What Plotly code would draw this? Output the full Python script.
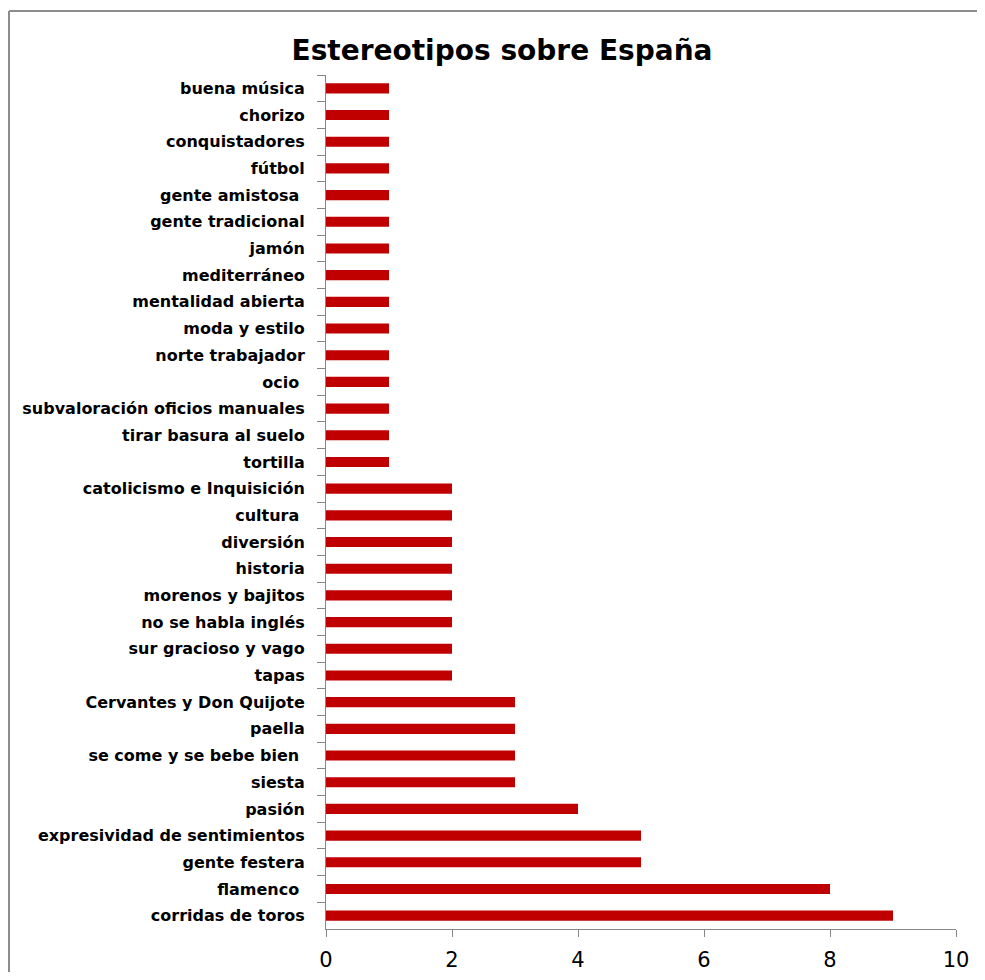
import plotly.graph_objects as go

NB = "\u00a0"
categories = [
    "buena música", "chorizo", "conquistadores", "fútbol", "gente amistosa" + NB,
    "gente tradicional", "jamón", "mediterráneo", "mentalidad abierta", "moda y estilo",
    "norte trabajador", "ocio" + NB, "subvaloración oficios manuales", "tirar basura al suelo",
    "tortilla", "catolicismo e Inquisición", "cultura" + NB, "diversión", "historia",
    "morenos y bajitos", "no se habla inglés", "sur gracioso y vago", "tapas",
    "Cervantes y Don Quijote", "paella", "se come y se bebe bien" + NB, "siesta",
    "pasión", "expresividad de sentimientos", "gente festera", "flamenco" + NB,
    "corridas de toros",
]
values = [1, 1, 1, 1, 1, 1, 1, 1, 1, 1, 1, 1, 1, 1, 1,
          2, 2, 2, 2, 2, 2, 2, 2,
          3, 3, 3, 3,
          4, 5, 5, 8, 9]
x_ticks = [0, 2, 4, 6, 8, 10]
title_text = "Estereotipos sobre España"

# page body has an 8px margin; work in reference pixels and shift by 8
OFF = 8
W, H = 977, 964
ML, MR, MT, MB = 326 - OFF, W - (956 - OFF), 75 - OFF, H - (929 - OFF)
pw, ph = W - ML - MR, H - MT - MB

def px_x(p):
    return (p - OFF - ML) / pw

def px_y(p):
    return (H - MB - (p - OFF)) / ph

fig = go.Figure(go.Bar(
    x=values, y=categories, orientation="h",
    marker=dict(color="#C00000", line=dict(width=0)),
))

fig.update_layout(
    width=W, height=H,
    margin=dict(l=ML, r=MR, t=MT, b=MB, autoexpand=False),
    paper_bgcolor="white", plot_bgcolor="white",
    bargap=0.62,
    showlegend=False,
    font=dict(family="DejaVu Sans", color="#000000"),
    title=dict(text="<b>" + title_text + "</b>", x=px_x(502), xanchor="center",
               xref="paper", y=1 - (50 - OFF) / H, yanchor="middle",
               font=dict(family="DejaVu Sans", size=28, color="#000000")),
    xaxis=dict(range=[0, 10], tickvals=x_ticks, ticks="outside", ticklen=7,
               tickcolor="#868686", showline=True, linecolor="#868686", linewidth=1,
               showgrid=False, zeroline=False, ticklabelstandoff=5, automargin=False,
               tickfont=dict(family="DejaVu Sans", size=21, color="#000000")),
    yaxis=dict(type="category", autorange="reversed", tickson="boundaries",
               ticks="outside", ticklen=8, tickcolor="#868686",
               showline=True, linecolor="#868686", linewidth=1, automargin=False,
               showgrid=False, zeroline=False, ticklabelstandoff=17,
               tickfont=dict(family="DejaVu Sans", size=16, color="#000000",
                             weight="bold")),
    shapes=[
        dict(type="line", xref="paper", yref="paper", x0=px_x(9), x1=px_x(9),
             y0=px_y(11), y1=px_y(H + OFF), line=dict(color="#8c8c8c", width=2)),
        dict(type="line", xref="paper", yref="paper", x0=px_x(9), x1=px_x(W + OFF),
             y0=px_y(11), y1=px_y(11), line=dict(color="#8c8c8c", width=2)),
    ],
)

fig.write_html("out.html")
